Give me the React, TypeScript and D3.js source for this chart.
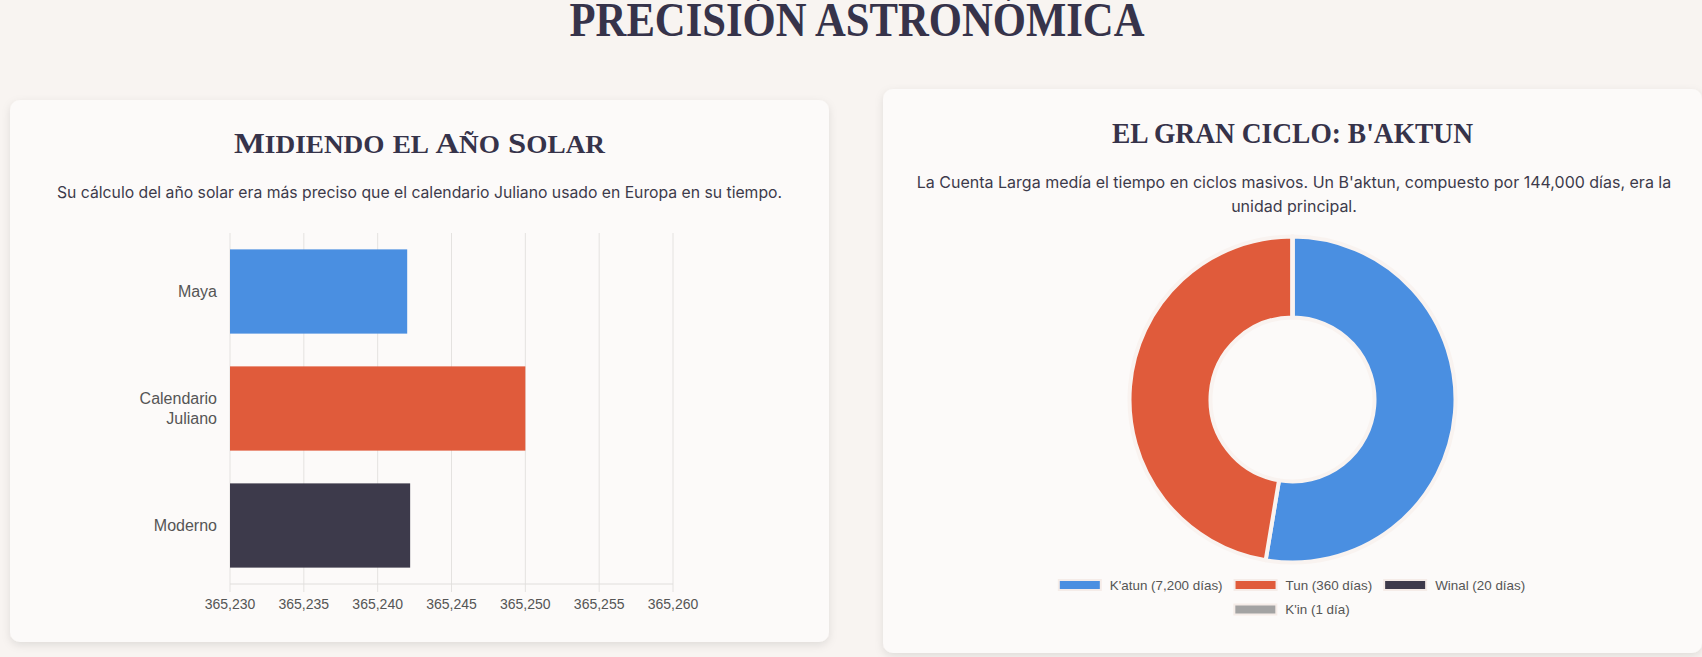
import React, { useEffect, useRef } from 'react';
import * as d3 from 'd3';

// año solar (días)
const yearLabels = ['Maya', 'Calendario Juliano', 'Moderno'];
const yearValues = [365.242, 365.25, 365.2422];
const yearColors = ['#4a8fe1', '#e05b3b', '#3d3a4b'];
const yearTicks = [365.23, 365.235, 365.24, 365.245, 365.25, 365.255, 365.26];

// B'aktun
const cycleLabels = ["K'atun (7,200 días)", 'Tun (360 días)', 'Winal (20 días)', "K'in (1 día)"];
const cycleValues = [20, 18, 0, 0];
const cycleColors = ['#4a8fe1', '#e05b3b', '#3d3a4b', '#a3a3a3'];

const W = 1702;
const H = 657;
const PAGE_BG = '#f8f4f1';
const CARD_BG = '#fcfaf9';
const INK = '#36334a';
const TEXT = '#3d3a4b';
const CHART_TEXT = '#555';
const SERIF = '"Liberation Serif", "DejaVu Serif", serif';
const SANS = '"Liberation Sans", Arial, sans-serif';
const INTER = 'Inter, "Noto Sans", sans-serif';

const esFormat = d3.formatLocale({
  decimal: ',',
  thousands: '.',
  grouping: [3],
  currency: ['', ''],
}).format('.3f');

// small caps by hand: lowercase runs get drawn as smaller capitals
const smallCaps = (
  sel: d3.Selection<SVGTextElement, unknown, null, undefined>,
  str: string,
  big: number,
  small: number,
) => {
  const runs = str.match(/[a-zñáéíóú]+|[^a-zñáéíóú]+/g) || [];
  runs.forEach((run) => {
    const lower = /[a-zñáéíóú]/.test(run[0]);
    sel.append('tspan')
      .attr('font-size', lower ? small : big)
      .style('text-transform', lower ? 'uppercase' : 'none')
      .text(run);
  });
};

const App: React.FC = () => {
  const svgRef = useRef<SVGSVGElement | null>(null);

  useEffect(() => {
    const svg = d3.select(svgRef.current);
    svg.selectAll('*').remove();

    const defs = svg.append('defs');
    const shadow = defs.append('filter')
      .attr('id', 'card-shadow')
      .attr('x', '-5%').attr('y', '-5%')
      .attr('width', '110%').attr('height', '115%');
    shadow.append('feDropShadow')
      .attr('dx', 0).attr('dy', 3)
      .attr('stdDeviation', 4)
      .attr('flood-color', '#000')
      .attr('flood-opacity', 0.1);

    svg.append('rect').attr('width', W).attr('height', H).attr('fill', PAGE_BG);

    // page title
    svg.append('text')
      .attr('x', 857).attr('y', 36)
      .attr('text-anchor', 'middle')
      .attr('font-family', SERIF)
      .attr('font-weight', 700)
      .attr('font-size', 48)
      .attr('fill', INK)
      .attr('textLength', 575)
      .attr('lengthAdjust', 'spacingAndGlyphs')
      .text('PRECISIÓN ASTRONÓMICA');

    // cards
    const cards = [
      { x: 10, y: 100, w: 819, h: 542 },
      { x: 883, y: 89, w: 819, h: 564 },
    ];
    svg.selectAll('rect.card')
      .data(cards)
      .join('rect')
      .attr('class', 'card')
      .attr('x', (d) => d.x).attr('y', (d) => d.y)
      .attr('width', (d) => d.w).attr('height', (d) => d.h)
      .attr('rx', 10)
      .attr('fill', CARD_BG)
      .attr('filter', 'url(#card-shadow)');

    // ---------- left card: bar chart ----------
    const leftHead = svg.append('text')
      .attr('x', 419.5).attr('y', 153)
      .attr('text-anchor', 'middle')
      .attr('font-family', SERIF)
      .attr('font-weight', 700)
      .attr('fill', INK)
      .attr('textLength', 371)
      .attr('lengthAdjust', 'spacingAndGlyphs');
    smallCaps(leftHead, 'Midiendo el Año Solar', 30, 25);

    svg.append('text')
      .attr('x', 419.5).attr('y', 191.5)
      .attr('text-anchor', 'middle')
      .attr('dominant-baseline', 'central')
      .attr('font-family', INTER)
      .attr('font-size', 16)
      .attr('fill', TEXT)
      .attr('textLength', 725)
      .attr('lengthAdjust', 'spacingAndGlyphs')
      .text('Su cálculo del año solar era más preciso que el calendario Juliano usado en Europa en su tiempo.');

    const plotTop = 233;
    const plotBottom = 584;
    const x = d3.scaleLinear().domain([365.23, 365.26]).range([230, 673]);
    const y = d3.scaleBand<string>()
      .domain(yearLabels)
      .range([plotTop, plotBottom])
      .paddingInner(0.28)
      .paddingOuter(0.14);

    const bar = svg.append('g');

    bar.selectAll('line.grid')
      .data(yearTicks)
      .join('line')
      .attr('class', 'grid')
      .attr('x1', (d) => x(d)).attr('x2', (d) => x(d))
      .attr('y1', plotTop).attr('y2', plotBottom + 8)
      .attr('stroke', '#e4e2e0')
      .attr('stroke-width', 1);

    bar.append('line')
      .attr('x1', x(365.23)).attr('x2', x(365.26))
      .attr('y1', plotBottom).attr('y2', plotBottom)
      .attr('stroke', '#e0dedc');

    bar.selectAll('rect.bar')
      .data(yearValues)
      .join('rect')
      .attr('class', 'bar')
      .attr('x', x(365.23))
      .attr('y', (d, i) => y(yearLabels[i]) as number)
      .attr('width', (d) => x(d) - x(365.23))
      .attr('height', y.bandwidth())
      .attr('fill', (d, i) => yearColors[i]);

    bar.selectAll('text.tick')
      .data(yearTicks)
      .join('text')
      .attr('class', 'tick')
      .attr('x', (d) => x(d))
      .attr('y', 609)
      .attr('text-anchor', 'middle')
      .attr('font-family', SANS)
      .attr('font-size', 14)
      .attr('fill', CHART_TEXT)
      .text((d) => esFormat(d));

    const lineH = 19.5;
    yearLabels.forEach((label) => {
      const lines = label.length > 10 ? label.split(' ') : [label];
      const cy = (y(label) as number) + y.bandwidth() / 2;
      const t = bar.append('text')
        .attr('text-anchor', 'end')
        .attr('font-family', SANS)
        .attr('font-size', 16)
        .attr('fill', CHART_TEXT);
      lines.forEach((ln, k) => {
        t.append('tspan')
          .attr('x', 217)
          .attr('y', cy + (k - (lines.length - 1) / 2) * lineH)
          .attr('dominant-baseline', 'central')
          .text(ln);
      });
    });

    // ---------- right card: doughnut ----------
    svg.append('text')
      .attr('x', 1292.5).attr('y', 142.5)
      .attr('text-anchor', 'middle')
      .attr('font-family', SERIF)
      .attr('font-weight', 700)
      .attr('font-size', 30)
      .attr('fill', INK)
      .attr('textLength', 361)
      .attr('lengthAdjust', 'spacingAndGlyphs')
      .text("EL GRAN CICLO: B'AKTUN");

    const sub = [
      "La Cuenta Larga medía el tiempo en ciclos masivos. Un B'aktun, compuesto por 144,000 días, era la",
      'unidad principal.',
    ];
    svg.selectAll('text.sub')
      .data(sub)
      .join('text')
      .attr('class', 'sub')
      .attr('x', 1294)
      .attr('y', (d, i) => 182 + i * 24)
      .attr('text-anchor', 'middle')
      .attr('dominant-baseline', 'central')
      .attr('font-family', INTER)
      .attr('font-size', 16)
      .attr('fill', TEXT)
      .text((d) => d);

    const cx = 1292.5;
    const cy = 399.5;
    const pie = d3.pie<number>().sort(null).value((d) => d);
    const arc = d3.arc<d3.PieArcDatum<number>>().innerRadius(82).outerRadius(163);

    svg.append('g')
      .attr('transform', `translate(${cx},${cy})`)
      .selectAll('path')
      .data(pie(cycleValues))
      .join('path')
      .attr('d', arc)
      .attr('fill', (d, i) => cycleColors[i])
      .attr('stroke', '#f9f3f0')
      .attr('stroke-width', 4)
      .attr('stroke-linejoin', 'round');

    // legend, wrapped like chart.js does
    const legend = svg.append('g');
    const fontSize = 13.4;
    const measure = legend.append('text')
      .attr('font-family', SANS)
      .attr('font-size', fontSize);
    const widths = cycleLabels.map((l) => {
      measure.text(l);
      return (measure.node() as SVGTextElement).getComputedTextLength();
    });
    measure.remove();

    const boxW = 40;
    const gapText = 10;
    const gapItem = 13;
    const maxRow = 520;
    const rows: number[][] = [[]];
    let rowW = 0;
    widths.forEach((tw, i) => {
      const iw = boxW + gapText + tw;
      const add = rows[rows.length - 1].length ? gapItem + iw : iw;
      if (rowW + add > maxRow && rows[rows.length - 1].length) {
        rows.push([i]);
        rowW = iw;
      } else {
        rows[rows.length - 1].push(i);
        rowW += add;
      }
    });

    rows.forEach((row, r) => {
      const total = row.reduce((s, i) => s + boxW + gapText + widths[i], 0) + gapItem * (row.length - 1);
      let lx = cx - total / 2;
      const ly = 585 + r * 24.5;
      row.forEach((i) => {
        legend.append('rect')
          .attr('x', lx - 1).attr('y', ly - 5)
          .attr('width', boxW + 2).attr('height', 10)
          .attr('fill', cycleColors[i])
          .attr('stroke', '#f5ece8')
          .attr('stroke-width', 2);
        legend.append('text')
          .attr('x', lx + boxW + gapText)
          .attr('y', ly)
          .attr('dominant-baseline', 'central')
          .attr('font-family', SANS)
          .attr('font-size', fontSize)
          .attr('fill', CHART_TEXT)
          .text(cycleLabels[i]);
        lx += boxW + gapText + widths[i] + gapItem;
      });
    });
  }, []);

  return (
    <div style={{ position: 'absolute', top: 0, left: 0 }}>
      <svg ref={svgRef} width={W} height={H} style={{ display: 'block' }}></svg>
    </div>
  );
};

export default App;
